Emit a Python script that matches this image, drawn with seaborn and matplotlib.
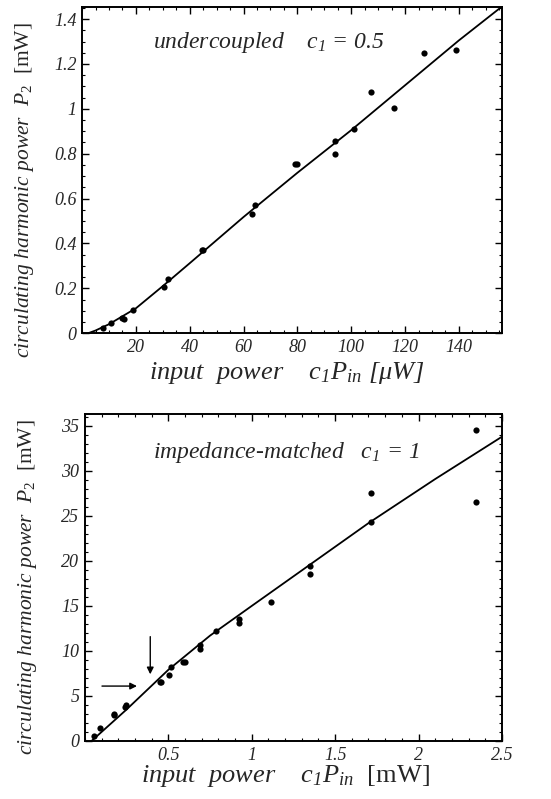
import numpy as np
import matplotlib
matplotlib.use("Agg")
import matplotlib.pyplot as plt
from matplotlib.ticker import MultipleLocator, FuncFormatter
import seaborn as sns

# ---- data: undercoupled, c1 = 0.5 ----
under_x = [7.6, 10.9, 14.9, 15.5, 19.0, 30.5, 31.8, 44.4, 45.0, 63.2, 64.4,
           79.0, 79.8, 94.1, 94.1, 101.0, 107.4, 115.8, 127.0, 139.1]
under_y = [0.025, 0.045, 0.067, 0.062, 0.104, 0.208, 0.241, 0.371, 0.371, 0.530, 0.571,
           0.752, 0.752, 0.856, 0.798, 0.911, 1.073, 1.004, 1.248, 1.263]
under_fit_x = [2.3, 5, 10, 20, 30, 40, 60, 80, 100, 120, 140, 156]
under_fit_y = [0.0, 0.012, 0.04, 0.111, 0.21, 0.312, 0.518, 0.715, 0.905, 1.105, 1.305, 1.456]

# ---- data: impedance-matched, c1 = 1 ----
match_x = [0.052, 0.092, 0.172, 0.175, 0.242, 0.245, 0.452, 0.456, 0.506, 0.514,
           0.59, 0.60, 0.693, 0.693, 0.785, 0.922, 0.922, 1.113, 1.35, 1.35,
           1.714, 1.714, 2.345, 2.345]
match_y = [0.56, 1.41, 2.90, 3.0, 3.79, 4.0, 6.5, 6.6, 7.36, 8.25,
           8.73, 8.73, 10.2, 10.66, 12.18, 13.08, 13.56, 15.49, 19.47, 18.5,
           27.6, 24.33, 34.6, 26.6]
match_fit_x = [0.04, 0.25, 0.5, 0.75, 1.0, 1.35, 1.7, 2.1, 2.5]
match_fit_y = [0.0, 3.5, 7.9, 11.7, 15.0, 19.6, 24.2, 29.1, 33.8]

sns.set_theme(style="ticks")
plt.rcParams["font.family"] = ["Liberation Serif", "DejaVu Serif"]
plt.rcParams["mathtext.fontset"] = "custom"
plt.rcParams["mathtext.rm"] = "Liberation Serif"
plt.rcParams["mathtext.it"] = "Liberation Serif:italic"
plt.rcParams["mathtext.bf"] = "Liberation Serif:bold"

fig = plt.figure(figsize=(5.51, 7.99), dpi=100)
ax1 = fig.add_axes([0.149, 0.583, 0.762, 0.408])
ax2 = fig.add_axes([0.154, 0.0726, 0.757, 0.409])

fmt = FuncFormatter(lambda v, p: "%g" % round(v, 6))

def style(ax, xmaj, xmin, ymaj, ymin):
    ax.xaxis.set_major_locator(MultipleLocator(xmaj))
    ax.xaxis.set_minor_locator(MultipleLocator(xmin))
    ax.yaxis.set_major_locator(MultipleLocator(ymaj))
    ax.yaxis.set_minor_locator(MultipleLocator(ymin))
    ax.xaxis.set_major_formatter(fmt)
    ax.yaxis.set_major_formatter(fmt)
    ax.tick_params(which="both", direction="in", top=True, right=True, color="black")
    ax.tick_params(which="major", length=5, width=1, labelsize=13, pad=4)
    ax.tick_params(which="minor", length=2.5, width=0.8)
    for s in ax.spines.values():
        s.set_linewidth(1.4)
        s.set_color("black")

ylab = "circulating harmonic power  P$_\\mathrm{2}$  $\\mathrm{[mW]}$"

# top panel
sns.lineplot(x=under_fit_x, y=under_fit_y, ax=ax1, color="black", lw=1.3, estimator=None, sort=False)
sns.scatterplot(x=under_x, y=under_y, ax=ax1, color="black", s=20, edgecolor="black", linewidth=0)
ax1.set_xlim(0, 156)
ax1.set_ylim(0, 1.453)
style(ax1, 20, 5, 0.2, 0.05)
ax1.set_xticks([20, 40, 60, 80, 100, 120, 140])
ax1.set_xlabel("input  power    c$_\\mathregular{1}$P$_\\mathregular{in}$ [\u03bcW]",
               fontsize=19, fontstyle="italic", va="center")
ax1.xaxis.set_label_coords(0.488, -0.123)
ax1.set_ylabel(ylab, fontsize=15.5, fontstyle="italic", va="center")
ax1.yaxis.set_label_coords(-0.136, 0.44)
ax1.text(26.3, 1.296, "undercoupled    c$_\\mathregular{1}$ = 0.5", fontsize=17,
         fontstyle="italic", va="center")

# bottom panel
sns.lineplot(x=match_fit_x, y=match_fit_y, ax=ax2, color="black", lw=1.3, estimator=None, sort=False)
sns.scatterplot(x=match_x, y=match_y, ax=ax2, color="black", s=20, edgecolor="black", linewidth=0)
ax2.set_xlim(0, 2.5)
ax2.set_ylim(0, 36.3)
style(ax2, 0.5, 0.1, 5, 1)
ax2.set_xticks([0.5, 1, 1.5, 2, 2.5])
ax2.set_xlabel("input  power    c$_\\mathregular{1}$P$_\\mathregular{in}$  $\\mathrm{[mW]}$",
               fontsize=19, fontstyle="italic", va="center")
ax2.xaxis.set_label_coords(0.48, -0.107)
ax2.set_ylabel(ylab, fontsize=15.5, fontstyle="italic", va="center")
ax2.yaxis.set_label_coords(-0.137, 0.47)
ax2.text(0.41, 32.1, "impedance-matched   c$_\\mathregular{1}$ = 1", fontsize=17,
         fontstyle="italic", va="center")
ax2.annotate("", xy=(0.329, 6.1), xytext=(0.086, 6.1),
             arrowprops=dict(arrowstyle="-|>", color="black", lw=1, mutation_scale=10))
ax2.annotate("", xy=(0.392, 7.1), xytext=(0.392, 11.9),
             arrowprops=dict(arrowstyle="-|>", color="black", lw=1, mutation_scale=10))

for ax in (ax1, ax2):
    for lab in ax.get_xticklabels() + ax.get_yticklabels():
        lab.set_fontstyle("italic")

fig.savefig("out.png", dpi=100)
